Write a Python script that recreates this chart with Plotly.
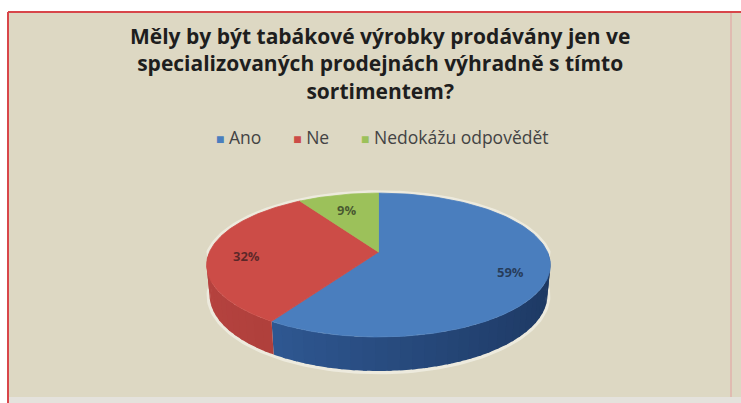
import numpy as np
import plotly.graph_objects as go

# Survey answers
categories = ["Ano", "Ne", "Nedokážu odpovědět"]
values = [59, 32, 9]
labels = ["59%", "32%", "9%"]

title_lines = [
    "Měly by být tabákové výrobky prodávány jen ve",
    "specializovaných prodejnách výhradně s tímto",
    "sortimentem?",
]

# Styling
top_colors = ["#4a7ebe", "#cc4c47", "#9cc15a"]
side_light = ["#3461a0", "#b6433f", "#88a84a"]
side_dark = ["#1d3862", "#9a3532", "#6f8c3c"]
bg = "#ddd8c3"
W, H = 741, 403

# 3-D view of the pie: tilt, camera distance, disc thickness, pixel mapping
tilt = np.radians(25)
dist = 5.0
thick = 0.2
cx, cy, sx, sy = 378.5, 252, 169, 164.6


def proj(theta, r=1.0, h=0.0):
    """Project a point of the disc (angle, radius, height) to pixels."""
    x = r * np.cos(theta)
    z = r * np.sin(theta)
    yc = h * np.cos(tilt) + z * np.sin(tilt)
    zc = z * np.cos(tilt) - h * np.sin(tilt)
    k = dist / (dist + zc)
    return cx + sx * x * k, cy - sy * yc * k


def blend(c1, c2, f):
    a = [int(c1[i:i + 2], 16) for i in (1, 3, 5)]
    b = [int(c2[i:i + 2], 16) for i in (1, 3, 5)]
    return "rgb(%d,%d,%d)" % tuple(round(a[k] + (b[k] - a[k]) * f) for k in range(3))


fig = go.Figure()

# pale glow around the pie body
tb = np.linspace(0, np.pi, 120)
tf = np.linspace(np.pi, 2 * np.pi, 120)
bx1, by1 = proj(tb)
bx2, by2 = proj(tf, h=-thick)
gx = np.concatenate([bx1, bx2])
gy = np.concatenate([by1, by2])
mx, my = gx.mean(), gy.mean()
fig.add_trace(go.Scatter(x=mx + (gx - mx) * 1.018, y=my + (gy - my) * 1.035,
                         fill="toself", mode="lines", line=dict(width=0),
                         fillcolor="rgba(242,240,230,0.75)", hoverinfo="skip",
                         showlegend=False))

# slice angles: start at the back (12 o'clock), go clockwise
total = sum(values)
starts, ends = [], []
a = np.pi / 2
for v in values:
    starts.append(a)
    a -= 2 * np.pi * v / total
    ends.append(a)

# visible side walls (front half of the disc)
for i in range(len(values)):
    t0, t1 = starts[i], ends[i]
    for shift in (0, 2 * np.pi, -2 * np.pi):
        hi = min(t0 + shift, 0.0)
        lo = max(t1 + shift, -np.pi)
        if hi <= lo:
            continue
        n = max(1, int((hi - lo) / 0.06))
        edges = np.linspace(lo, hi, n + 1)
        for k in range(n):
            ta, tbb = edges[k], min(edges[k + 1] + 0.02, hi)
            tt = np.linspace(ta, tbb, 6)
            xs, ys = proj(tt)
            xb, yb = proj(tt, h=-thick)
            px = np.concatenate([xs, xb[::-1]])
            py = np.concatenate([ys, yb[::-1]])
            f = (np.cos((ta + tbb) / 2) + 1) / 2
            col = blend(side_light[i], side_dark[i], f)
            fig.add_trace(go.Scatter(x=px, y=py, fill="toself", mode="none",
                                     fillcolor=col, hoverinfo="skip",
                                     showlegend=False))

# top faces
for i in range(len(values)):
    tt = np.linspace(starts[i], ends[i], 150)
    xs, ys = proj(tt)
    ax, ay = proj(0.0, r=0.0)
    px = np.concatenate([[ax], xs, [ax]])
    py = np.concatenate([[ay], ys, [ay]])
    fig.add_trace(go.Scatter(x=px, y=py, fill="toself", mode="lines",
                             line=dict(color=top_colors[i], width=0.8),
                             fillcolor=top_colors[i], name=categories[i],
                             hoverinfo="name", showlegend=False))

# percentage labels at the slice mid-angles
for i in range(len(values)):
    mid = (starts[i] + ends[i]) / 2
    lx, ly = proj(mid, r=0.78)
    fig.add_annotation(x=lx, y=ly + 4, text=labels[i], showarrow=False,
                       font=dict(family="Open Sans", size=13, weight="bold",
                                 color="rgba(15,15,20,0.6)"),
                       xref="x", yref="y")

# legend row
legend_html = "&nbsp;&nbsp;&nbsp;&nbsp;&nbsp;&nbsp;&nbsp;".join(
    "<span style='color:%s;font-size:14px'>■</span> %s" % (c, n)
    for c, n in zip(top_colors, categories))
fig.add_annotation(x=382, y=137, text=legend_html, showarrow=False,
                   font=dict(family="Open Sans", size=17.5, color="#434343"),
                   xref="x", yref="y")

# chart frame
fig.add_shape(type="rect", x0=8, y0=12, x1=W, y1=397, xref="x", yref="y",
              fillcolor=bg, line=dict(width=0), layer="below")
fig.add_shape(type="rect", x0=8, y0=397, x1=W, y1=H, xref="x", yref="y",
              fillcolor="#e4e2dc", line=dict(width=0), layer="below")
fig.add_shape(type="line", x0=731, y0=12, x1=731, y1=397, xref="x", yref="y",
              line=dict(color="rgba(225,175,170,0.7)", width=2))
fig.add_shape(type="line", x0=8, y0=12, x1=W, y1=12, xref="x", yref="y",
              line=dict(color="#d8464a", width=2))
fig.add_shape(type="line", x0=8, y0=12, x1=8, y1=H, xref="x", yref="y",
              line=dict(color="#d8464a", width=2))

fig.add_annotation(x=380, y=20, yanchor="top", text="<br>".join(title_lines),
                   showarrow=False, xref="x", yref="y",
                   font=dict(family="Open Sans", size=21, weight="bold",
                             color="#1e1e1e"))

fig.update_layout(
    width=W, height=H,
    margin=dict(l=0, r=0, t=0, b=0),
    paper_bgcolor="white", plot_bgcolor="rgba(0,0,0,0)",
    xaxis=dict(range=[0, W], visible=False, fixedrange=True),
    yaxis=dict(range=[H, 0], visible=False, fixedrange=True),
    showlegend=False,
)

fig.write_html("out.html")
